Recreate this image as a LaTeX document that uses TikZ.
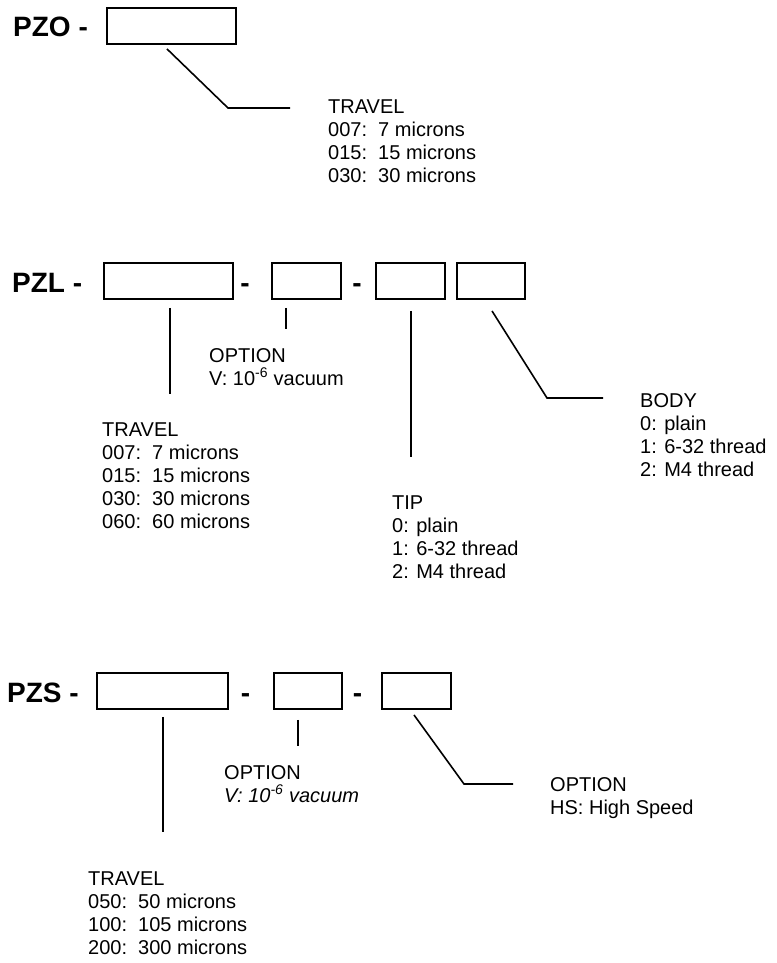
\documentclass[tikz,border=0pt]{standalone}
\usepackage{fontspec}
\setmainfont{Liberation Sans}
\begin{document}
\begin{tikzpicture}[x=1pt,y=-1pt,
  box/.style={draw, line width=1.9pt, inner sep=0pt, minimum height=36pt},
  lead/.style={line width=1.6pt},
  ttl/.style={anchor=base west, inner sep=0pt, font=\fontsize{28}{30}\selectfont\bfseries},
  dsh/.style={anchor=base, inner sep=0pt, font=\fontsize{28}{30}\selectfont\bfseries},
  lbl/.style={anchor=north west, inner sep=0pt, align=left, font=\fontsize{20}{23}\selectfont}]
\useasboundingbox (0,0) rectangle (776,963);

% ---------- PZO ----------
\node[ttl] (oT) at (13,37) {PZO -};
\node[box, minimum width=129pt] (oA) at (171.5,26) {};
\node[lbl] (oL) at (328,100) {TRAVEL\\007:\ \ 7 microns\\015:\ \ 15 microns\\030:\ \ 30 microns};
\coordinate (oE) at (228,108);
\coordinate (oF) at (290,108);
\draw[lead] ([xshift=-4.5pt,yshift=-4pt]oA.south) -- (oE) -- (oF);

% ---------- PZL ----------
\node[ttl] (lT) at (12,292) {PZL -};
\node[box, minimum width=129pt] (lA) at (168.5,281) {};
\node[dsh] (lD1) at (245,292) {-};
\node[box, minimum width=69pt] (lB) at (306.5,281) {};
\node[dsh] (lD2) at (357,292) {-};
\node[box, minimum width=69pt] (lC) at (410.5,281) {};
\node[box, minimum width=68pt] (lDd) at (491,281) {};

\node[lbl] (lOpt) at (209,348) {OPTION\\V: 10\textsuperscript{-6} vacuum};
\node[lbl] (lTrav) at (102,423) {TRAVEL\\007:\ \ 7 microns\\015:\ \ 15 microns\\030:\ \ 30 microns\\060:\ \ 60 microns};
\node[lbl] (lTip) at (392,496) {TIP\\0: plain\\1: 6-32 thread\\2: M4 thread};
\node[lbl] (lBody) at (640,393) {BODY\\0: plain\\1: 6-32 thread\\2: M4 thread};

\coordinate (lAe) at (170,394);
\coordinate (lBe) at (286,329);
\coordinate (lCe) at (411,457);
\coordinate (lDm) at (547,398);
\coordinate (lDe) at (603,398);
\draw[lead] ([xshift=1.5pt,yshift=-8pt]lA.south) -- (lAe);
\draw[lead] ([xshift=-20.5pt,yshift=-8pt]lB.south) -- (lBe);
\draw[lead] ([xshift=0.5pt,yshift=-11pt]lC.south) -- (lCe);
\draw[lead] ([xshift=1pt,yshift=-11pt]lDd.south) -- (lDm) -- (lDe);

% ---------- PZS ----------
\node[ttl] (sT) at (7,702) {PZS -};
\node[box, minimum width=131pt] (sA) at (162.5,691) {};
\node[dsh] (sD1) at (245.5,702) {-};
\node[box, minimum width=68pt] (sB) at (308,691) {};
\node[dsh] (sD2) at (357.5,702) {-};
\node[box, minimum width=69pt] (sC) at (416.5,691) {};

\node[lbl] (sOpt) at (224,765) {OPTION\\{\itshape V: 10\textsuperscript{-6} vacuum}};
\node[lbl] (sHS) at (550,777) {OPTION\\HS: High Speed};
\node[lbl] (sTrav) at (88,872) {TRAVEL\\050:\ \ 50 microns\\100:\ \ 105 microns\\200:\ \ 300 microns};

\coordinate (sAe) at (163,832);
\coordinate (sBe) at (298,746);
\coordinate (sCm) at (464,784);
\coordinate (sCe) at (513,784);
\draw[lead] ([xshift=0.5pt,yshift=-7pt]sA.south) -- (sAe);
\draw[lead] ([xshift=-10pt,yshift=-10pt]sB.south) -- (sBe);
\draw[lead] ([xshift=-2.5pt,yshift=-5pt]sC.south) -- (sCm) -- (sCe);
\end{tikzpicture}
\end{document}
